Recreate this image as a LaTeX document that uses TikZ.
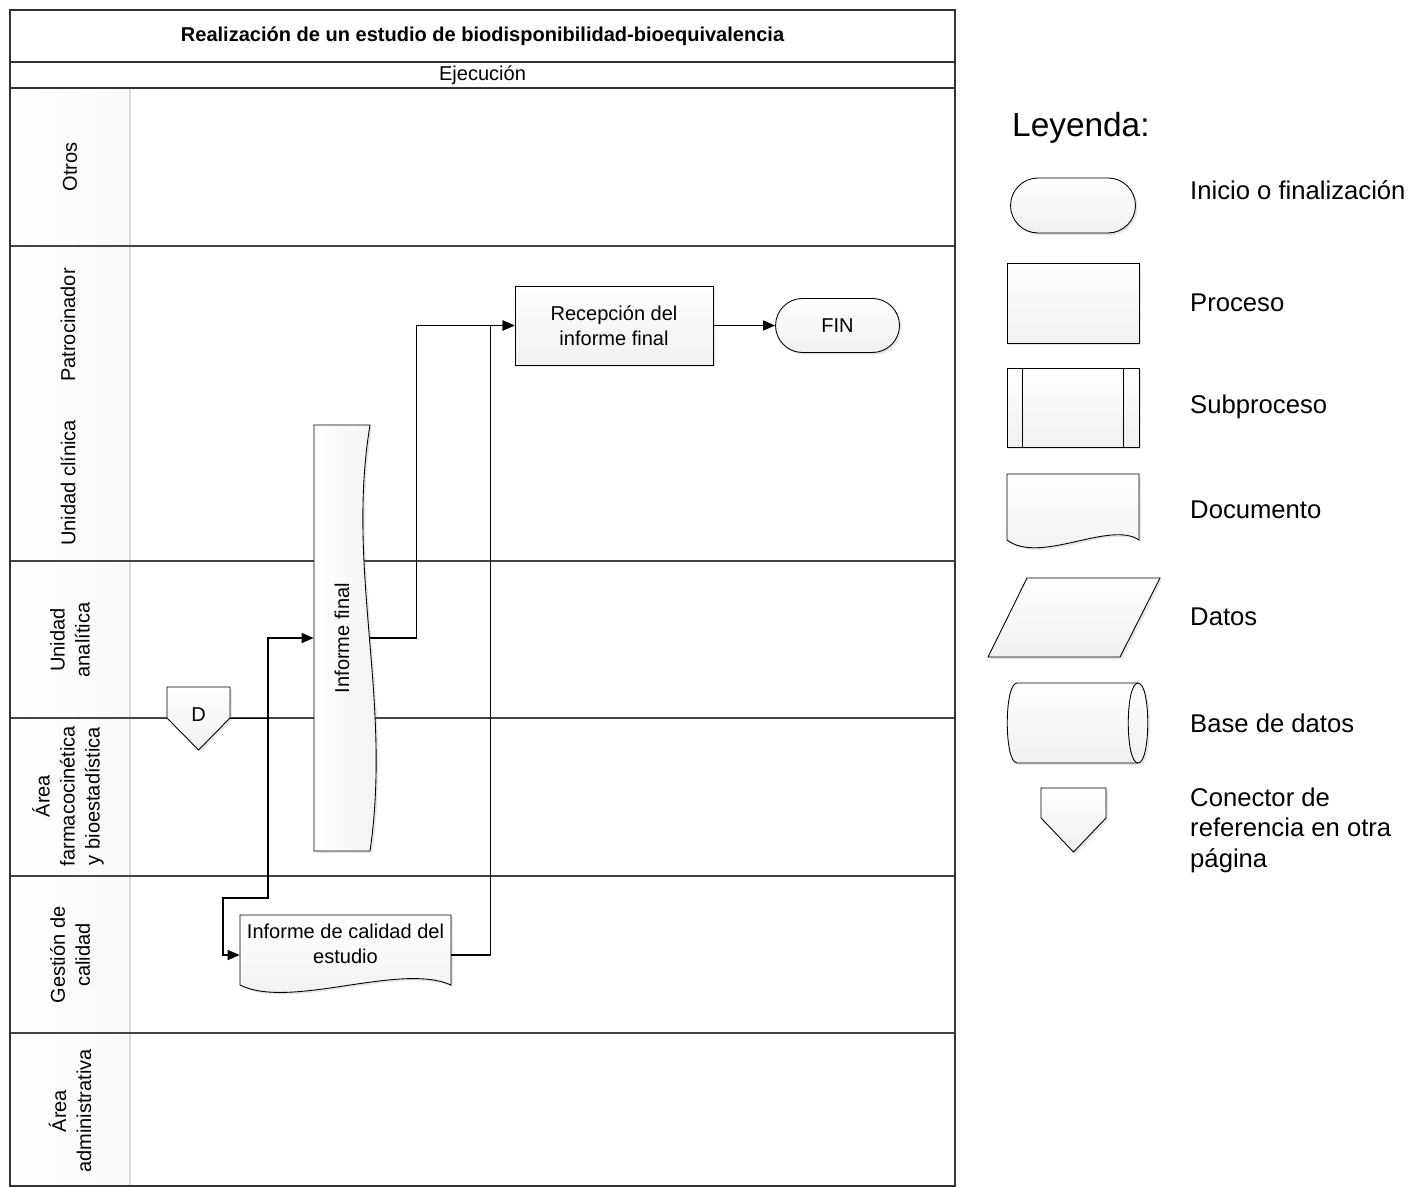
\documentclass[tikz,border=0pt]{standalone}
\usepackage{fontspec}
\setmainfont{Liberation Sans}
\usetikzlibrary{positioning, calc, shapes.misc, shapes.geometric, arrows.meta, shadows}
\definecolor{frame}{HTML}{333333}
\definecolor{lane}{HTML}{444444}
\definecolor{shapebot}{HTML}{f0f0f0}

\begin{document}
\begin{tikzpicture}[x=0.02cm, y=-0.02cm,
    txt/.style={font=\fontsize{11.4}{14.2}\selectfont, align=center},
    shp/.style={draw=black, line width=0.5pt, top color=white, middle color=white, bottom color=shapebot,
        drop shadow={shadow xshift=1.2pt, shadow yshift=-1.2pt, opacity=0.2}},
    proc/.style={shp, txt, rectangle, inner sep=2pt},
    term/.style={shp, txt, rounded rectangle, inner sep=2pt},
    docbox/.style={txt, inner sep=0pt},
    lanelbl/.style={txt, rotate=90},
    lgd/.style={font=\fontsize{14.6}{17.4}\selectfont, anchor=west, align=left},
    flow/.style={draw, line width=0.8pt, -{Triangle[length=2.4mm, width=2mm]}},
    link/.style={draw, line width=0.8pt},
    laneline/.style={draw=lane, line width=0.7pt},
]
\useasboundingbox (0,0) rectangle (1408,1186);

% ── Swimlanes ──
\shade[left color=white, middle color=white, right color=gray!5] (10,88) rectangle (130,1186);
\draw[gray!30, line width=0.6pt] (130,88) -- (130,1186);
\draw[laneline] (10,246) -- (955,246);
\draw[laneline] (10,561) -- (955,561);
\draw[laneline] (10,718) -- (955,718);
\draw[laneline] (10,876) -- (955,876);
\draw[laneline] (10,1033) -- (955,1033);
\draw[draw=frame, line width=0.85pt] (10,62) -- (955,62);
\draw[draw=frame, line width=0.85pt] (10,88) -- (955,88);
\draw[draw=frame, line width=0.85pt] (10,10) rectangle (955,1186);

\node[txt, font=\bfseries\fontsize{11.4}{14}\selectfont] (title) at (482.5,36) {Realización de un estudio de biodisponibilidad-bioequivalencia};
\node[txt] (phase) at (482.5,75) {Ejecución};

\node[lanelbl] (l-otros) at (70,167) {Otros};
\node[lanelbl] (l-patro) at (68,325) {Patrocinador};
\node[lanelbl] (l-uclin) at (68,483) {Unidad clínica};
\node[lanelbl] (l-uanal) at (70,640) {Unidad\\analítica};
\node[lanelbl] (l-farma) at (68,796) {Área\\farmacocinética\\y bioestadística};
\node[lanelbl] (l-gest) at (70,955) {Gestión de\\calidad};
\node[lanelbl] (l-admin) at (70,1111) {Área\\administrativa};

% ── Process ──
\draw[shp] (167,687) -- (230,687) -- (230,718) -- (198.5,750) -- (167,718) -- cycle;
\node[docbox, minimum width=1.26cm, minimum height=1.26cm] (d) at (198.5,718.5) {\raisebox{4.5pt}{D}};

\draw[shp, left color=white, middle color=white, right color=shapebot] (314,425) -- (370,425) .. controls (346,570) and (392,700) .. (370,851) -- (314,851) -- cycle;
\node[docbox, minimum width=1.12cm, minimum height=8.52cm] (inf) at (342,638) {\rotatebox{90}{Informe final}};

\draw[shp] (240,915) -- (451,915) -- (451,985) .. controls (400,962) and (290,1010) .. (240,985) -- cycle;
\node[docbox, minimum width=4.22cm, minimum height=1.16cm] (cal) at (345.5,944) {Informe de calidad del\\estudio};

\node[proc, minimum width=3.96cm, minimum height=1.58cm] (rec) at (614,325.5) {Recepción del\\informe final};
\node[term, minimum width=2.62cm, minimum height=1.08cm] (fin) at (837.5,325.5) {FIN};

\coordinate (split) at (268,718.5);
\coordinate (calbend) at (223,898);
\coordinate (calin) at ($(cal.west)+(0,11)$);
\coordinate (calout) at ($(cal.east)+(0,11)$);

\draw[link] (d.east) -- (split);
\draw[flow] (split) |- (inf.west);
\draw[flow] (split) |- (calbend) |- (calin);
\draw[flow] (inf.east) -- ++(46,0) |- (rec.west);
\draw[flow] (calout) -- ++(39,0) |- (rec.west);
\draw[flow] (rec.east) -- (fin.west);

% ── Legend ──
\node[font=\fontsize{19}{22}\selectfont, anchor=west] (lgtitle) at (1006,128) {Leyenda:};

\node[term, minimum width=2.64cm, minimum height=1.1cm] (lgterm) at (1073,205.5) {};
\node[proc, minimum width=2.64cm, minimum height=1.6cm] (lgproc) at (1073,303) {};
\node[proc, minimum width=2.64cm, minimum height=1.58cm] (lgsub) at (1073,407.5) {};
\draw[line width=0.5pt] ($(lgsub.north west)+(16,0)$) -- ($(lgsub.south west)+(16,0)$);
\draw[line width=0.5pt] ($(lgsub.north east)+(-16,0)$) -- ($(lgsub.south east)+(-16,0)$);
\draw[shp] (1007,474) -- (1139,474) -- (1139,540) .. controls (1110,520) and (1040,565) .. (1007,540) -- cycle;
\draw[shp] (1027,578) -- (1160,578) -- (1120,657) -- (988,657) -- cycle;
\draw[shp] (1017,683) -- (1138,683) .. controls (1151,683) and (1151,763) .. (1138,763) -- (1017,763) .. controls (1004,763) and (1004,683) .. (1017,683) -- cycle;
\draw[line width=0.5pt] (1138,683) .. controls (1125,683) and (1125,763) .. (1138,763);
\draw[shp] (1041,788) -- (1106,788) -- (1106,818) -- (1073.5,852) -- (1041,818) -- cycle;

\node[lgd] (t-term) at (1184,190) {Inicio o finalización};
\node[lgd] (t-proc) at (1184,303) {Proceso};
\node[lgd] (t-sub) at (1184,407) {Subproceso};
\node[lgd] (t-doc) at (1184,510) {Documento};
\node[lgd] (t-data) at (1184,617) {Datos};
\node[lgd] (t-db) at (1184,723) {Base de datos};
\node[lgd] (t-conn) at (1184,830) {Conector de\\referencia en otra\\página};

\end{tikzpicture}
\end{document}
